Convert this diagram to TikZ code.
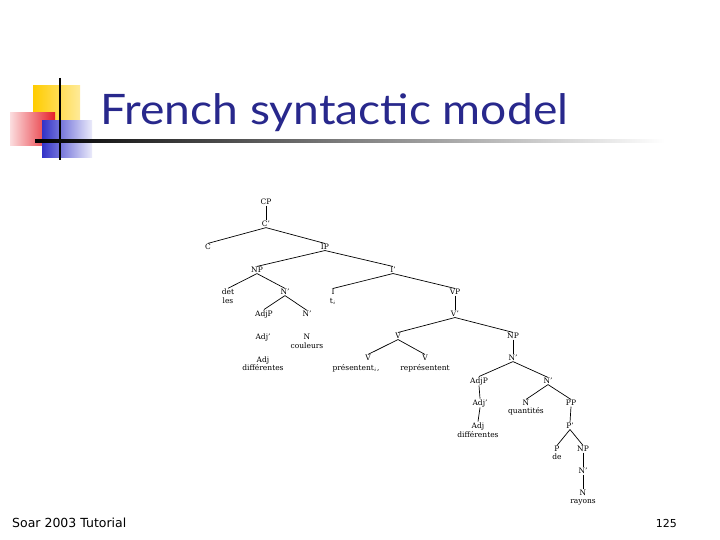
\documentclass[tikz,border=0pt]{standalone}
\usepackage{fontspec}
\setmainfont{DejaVu Serif}
\newfontfamily\titlefont{Lato}
\newfontfamily\footfont{DejaVu Sans}
\definecolor{titleblue}{RGB}{40,40,140}
\definecolor{sqyellow}{RGB}{255,204,0}
\definecolor{sqred}{RGB}{230,30,40}
\definecolor{sqblue}{RGB}{50,50,200}
\begin{document}
\begin{tikzpicture}[x=1pt,y=-1pt,
  lab/.style={font=\fontsize{7.5}{8}\selectfont, inner sep=0.6pt},
  word/.style={font=\fontsize{7.5}{8}\selectfont, inner sep=0.6pt},
  edge/.style={line width=0.7pt, black}]
\useasboundingbox[fill=white] (0,0) rectangle (720,540);
% decoration
\shade[left color=sqyellow, right color=sqyellow!40] (33,86) rectangle (80,124);
\shade[left color=sqred!15, right color=sqred] (10,113) rectangle (55,146);
\shade[left color=sqblue, right color=sqblue!10] (42,121) rectangle (92,158);
\draw[line width=2pt, black] (60,78) -- (60,160);
\shade[left color=black, right color=white] (35,140) rectangle (665,142.5);
\node[anchor=base west, font=\titlefont\fontsize{42}{46}\selectfont, text=titleblue, inner sep=0] (title) at (100,125) {\scalebox{1.1}[1]{French syntactic model}};
% footer
\node[anchor=base west, font=\footfont\fontsize{12.5}{13}\selectfont, inner sep=0] (foot) at (12,527) {Soar 2003 Tutorial};
\node[anchor=base east, font=\footfont\fontsize{11}{12}\selectfont, inner sep=0] (page) at (677,527) {125};
% tree nodes
\node[lab] (cp) at (266,202) {CP};
\node[lab] (cb) at (266,224) {C'};
\node[lab] (c) at (208,247) {C};
\node[lab] (ip) at (325,247) {IP};
\node[lab] (np1) at (257,270) {NP};
\node[lab] (ib) at (393,270) {I'};
\node[lab] (det) at (228,292) {det};
\node[word] (les) at (228,301) {les};
\node[lab] (nb1) at (285,292) {N'};
\node[lab] (i) at (333,292) {I};
\node[word] (ti) at (333,301) {t$_i$};
\node[lab] (vp) at (455,292) {VP};
\node[lab] (vb) at (455,314) {V'};
\node[lab] (adjp1) at (264,314) {AdjP};
\node[lab] (nb2) at (307,314) {N'};
\node[lab] (adjb1) at (263,337) {Adj'};
\node[lab] (n1) at (307,337) {N};
\node[word] (couleurs) at (307,346) {couleurs};
\node[lab] (adj1) at (263,360) {Adj};
\node[word] (diff1) at (263,368) {différentes};
\node[lab] (v0) at (398,336) {V};
\node[lab] (np2) at (513,336) {NP};
\node[lab] (v1) at (368,358) {V};
\node[lab] (v2) at (425,358) {V};
\node[word] (pres) at (356,368) {présentent$_i$,};
\node[word] (repr) at (425,368) {représentent};
\node[lab] (nb3) at (513,358) {N'};
\node[lab] (adjp2) at (479,381) {AdjP};
\node[lab] (nb4) at (548,381) {N'};
\node[lab] (adjb2) at (480,403) {Adj'};
\node[lab] (n2) at (526,403) {N};
\node[word] (quant) at (526,411) {quantités};
\node[lab] (pp) at (571,403) {PP};
\node[lab] (adj2) at (478,426) {Adj};
\node[word] (diff2) at (478,435) {différentes};
\node[lab] (pb) at (570,426) {P'};
\node[lab] (p) at (557,449) {P};
\node[word] (de) at (557,457) {de};
\node[lab] (np3) at (583,449) {NP};
\node[lab] (nb5) at (583,471) {N'};
\node[lab] (n3) at (583,493) {N};
\node[word] (rayons) at (583,502) {rayons};
% edges
\foreach \a/\b in {cp/cb, cb/c, cb/ip, ip/np1, ip/ib, np1/det, np1/nb1, nb1/adjp1, nb1/nb2,
  ib/i, ib/vp, vp/vb, vb/v0, vb/np2, v0/v1, v0/v2, np2/nb3, nb3/adjp2, nb3/nb4,
  adjp2/adjb2, adjb2/adj2, nb4/n2, nb4/pp, pp/pb, pb/p, pb/np3, np3/nb5, nb5/n3}
  \draw[edge] (\a.south) -- (\b.north);
\end{tikzpicture}
\end{document}
